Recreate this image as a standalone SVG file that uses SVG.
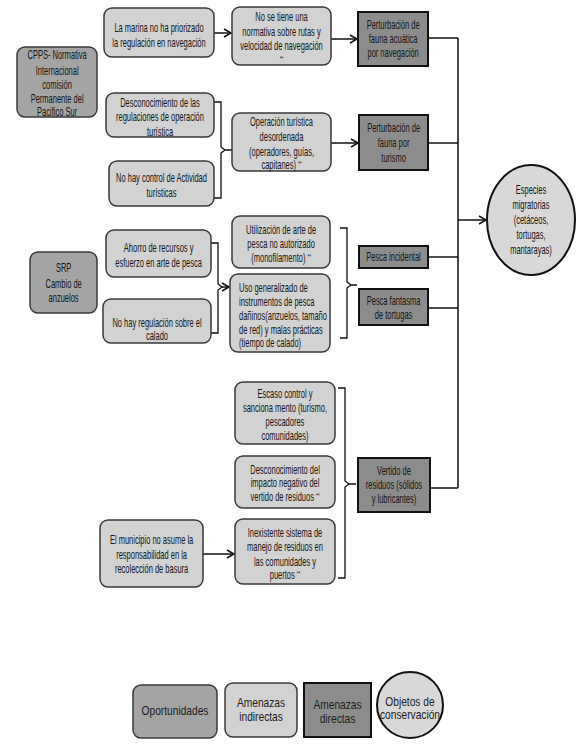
<svg xmlns="http://www.w3.org/2000/svg" width="579" height="747" viewBox="0 0 579 747">
<style>
.op{fill:#a4a4a4;stroke:#3a3a3a;stroke-width:1.5}
.ai{fill:#d2d2d2;stroke:#3a3a3a;stroke-width:1.5}
.ad{fill:#8c8c8c;stroke:#111;stroke-width:2}
.oc{fill:#d8d8d8;stroke:#111;stroke-width:2}
.t{font-family:"Liberation Sans",Arial,sans-serif;font-size:12px;fill:#151515;text-anchor:middle;transform:scaleX(0.625);transform-box:fill-box;transform-origin:center}
.tl{font-family:"Liberation Sans",Arial,sans-serif;font-size:12px;fill:#151515;text-anchor:start;transform:scaleX(0.625);transform-box:fill-box;transform-origin:left}
.lg{font-family:"Liberation Sans",Arial,sans-serif;font-size:12px;fill:#1c1c1c;text-anchor:middle;transform:scaleX(0.85);transform-box:fill-box;transform-origin:center}
.s{font-size:7px}
.c{fill:none;stroke:#111;stroke-width:1.5}
.b{fill:none;stroke:#111;stroke-width:1.3}
</style>
<defs>
<marker id="ar" markerWidth="10" markerHeight="10" refX="8" refY="5" orient="auto" markerUnits="userSpaceOnUse">
<path d="M1,1 L8,5 L1,9" fill="none" stroke="#111" stroke-width="1.5"/>
</marker>
</defs>
<rect width="579" height="747" fill="#fff"/>

<g id="connectors">
<line class="c" x1="214" y1="33" x2="231" y2="33" marker-end="url(#ar)"/>
<line class="c" x1="331" y1="39" x2="357" y2="39" marker-end="url(#ar)"/>
<line class="c" x1="331" y1="143" x2="358" y2="143" marker-end="url(#ar)"/>
<line class="c" x1="222" y1="287" x2="229" y2="287" marker-end="url(#ar)"/>
<line class="c" x1="203" y1="554" x2="234" y2="554" marker-end="url(#ar)"/>
<path class="c" d="M428,38 H458 M428,143 H458 M428,257 H458 M428,308 H458 M430,488 H458 M458,38 V488"/>
<line class="c" x1="458" y1="220" x2="486" y2="220" marker-end="url(#ar)"/>
<path class="b" d="M214,102 H221 V147 L225,150 L221,153 V198 H214 M225,150 H232"/>
<path class="b" d="M211,243 H218 V284 L222,287 L218,290 V333 H211"/>
<path class="b" d="M340,228 H347 V282 L351,285 L347,288 V338 H340 M351,285 H357"/>
<path class="b" d="M338,388 H345 V481 L349,484 L345,487 V578 H338 M349,484 H356"/>
</g>

<g id="cpps"><rect class="op" x="17" y="47" width="80" height="70" rx="8"/>
<text class="t"><tspan x="57" y="59">CPPS- Normativa</tspan><tspan x="57" y="75">Internacional</tspan><tspan x="57" y="89">comisión</tspan><tspan x="57" y="103">Permanente del</tspan><tspan x="57" y="116">Pacifico Sur</tspan></text></g>

<g id="marina"><rect class="ai" x="104" y="8" width="110" height="49" rx="8"/>
<text class="t"><tspan x="159" y="32">La marina no ha priorizado</tspan><tspan x="159" y="47">la regulación en navegación</tspan></text></g>

<g id="desconoc1"><rect class="ai" x="106" y="93" width="108" height="44" rx="8"/>
<text class="t"><tspan x="160" y="107">Desconocimiento de las</tspan><tspan x="160" y="121">regulaciones de operación</tspan><tspan x="160" y="136">turística</tspan></text></g>

<g id="nohaycontrol"><rect class="ai" x="109" y="161" width="105" height="45" rx="8"/>
<text class="t"><tspan x="161.5" y="182">No hay control de Actividad</tspan><tspan x="161.5" y="197">turísticas</tspan></text></g>

<g id="notiene"><rect class="ai" x="232" y="7" width="99" height="58" rx="8"/>
<text class="t"><tspan x="281.5" y="21">No se tiene una</tspan><tspan x="281.5" y="36">normativa sobre rutas y</tspan><tspan x="281.5" y="50">velocidad de navegación</tspan><tspan x="281.5" y="61" class="s">**</tspan></text></g>

<g id="operacion"><rect class="ai" x="232" y="113" width="99" height="58" rx="8"/>
<text class="t"><tspan x="281.5" y="126">Operación turística</tspan><tspan x="281.5" y="141">desordenada</tspan><tspan x="281.5" y="156">(operadores, guías,</tspan><tspan x="281.5" y="169">capitanes) <tspan class="s" dy="-3">**</tspan></tspan></text></g>

<g id="pertnav"><rect class="ad" x="358" y="12" width="70" height="54"/>
<text class="t"><tspan x="393" y="29">Perturbación de</tspan><tspan x="393" y="43">fauna acuática</tspan><tspan x="393" y="57">por navegación</tspan></text></g>

<g id="perttur"><rect class="ad" x="359" y="115" width="69" height="55"/>
<text class="t"><tspan x="393.5" y="132">Perturbación de</tspan><tspan x="393.5" y="147">fauna por</tspan><tspan x="393.5" y="162">turismo</tspan></text></g>

<g id="especies"><ellipse class="oc" cx="531" cy="220" rx="44" ry="55"/>
<text class="t"><tspan x="531" y="194">Especies</tspan><tspan x="531" y="209">migratorias</tspan><tspan x="531" y="224">(cetáceos,</tspan><tspan x="531" y="239">tortugas,</tspan><tspan x="531" y="254">mantarayas)</tspan></text></g>

<g id="srp"><rect class="op" x="30" y="252" width="67" height="61" rx="8"/>
<text class="t"><tspan x="63.5" y="272">SRP</tspan><tspan x="63.5" y="288">Cambio de</tspan><tspan x="63.5" y="302">anzuelos</tspan></text></g>

<g id="ahorro"><rect class="ai" x="106" y="230" width="105" height="47" rx="8"/>
<text class="t"><tspan x="158.5" y="252">Ahorro de recursos y</tspan><tspan x="158.5" y="267">esfuerzo en arte de pesca</tspan></text></g>

<g id="noregulacion"><rect class="ai" x="103" y="299" width="108" height="44" rx="8"/>
<text class="t"><tspan x="157" y="327">No hay regulación sobre el</tspan><tspan x="157" y="340">calado</tspan></text></g>

<g id="utilizacion"><rect class="ai" x="232" y="216" width="98" height="52" rx="8"/>
<text class="t"><tspan x="281" y="234">Utilización de arte de</tspan><tspan x="281" y="248">pesca no autorizado</tspan><tspan x="281" y="262">(monofilamento) <tspan class="s" dy="-3">**</tspan></tspan></text></g>

<g id="uso"><rect class="ai" x="230" y="274" width="100" height="78" rx="8"/>
<text class="tl"><tspan x="239" y="292">Uso generalizado de</tspan><tspan x="239" y="306">instrumentos de pesca</tspan><tspan x="239" y="320">dañinos(anzuelos, tamaño</tspan><tspan x="239" y="334">de red) y malas prácticas</tspan><tspan x="239" y="347">(tiempo de calado)</tspan></text></g>

<g id="pescainc"><rect class="ad" x="359" y="246" width="69" height="22"/>
<text class="t"><tspan x="393.5" y="261">Pesca incidental</tspan></text></g>

<g id="pescafan"><rect class="ad" x="359" y="289" width="69" height="36"/>
<text class="t"><tspan x="393.5" y="305">Pesca fantasma</tspan><tspan x="393.5" y="319">de tortugas</tspan></text></g>

<g id="escaso"><rect class="ai" x="235" y="382" width="100" height="62" rx="8"/>
<text class="t"><tspan x="285" y="398">Escaso control y</tspan><tspan x="285" y="412">sanciona mento (turismo,</tspan><tspan x="285" y="426">pescadores</tspan><tspan x="285" y="440">comunidades)</tspan></text></g>

<g id="desconoc2"><rect class="ai" x="235" y="456" width="100" height="52" rx="8"/>
<text class="t"><tspan x="285" y="474">Desconocimiento del</tspan><tspan x="285" y="487">impacto negativo del</tspan><tspan x="285" y="501">vertido de residuos <tspan class="s" dy="-3">**</tspan></tspan></text></g>

<g id="inexistente"><rect class="ai" x="235" y="519" width="100" height="65" rx="8"/>
<text class="t"><tspan x="285" y="537">Inexistente sistema de</tspan><tspan x="285" y="551">manejo de residuos en</tspan><tspan x="285" y="566">las comunidades y</tspan><tspan x="285" y="579">puertos <tspan class="s" dy="-3">**</tspan></tspan></text></g>

<g id="vertido"><rect class="ad" x="358" y="458" width="72" height="54"/>
<text class="t"><tspan x="394" y="475">Vertido de</tspan><tspan x="394" y="489">residuos (sólidos</tspan><tspan x="394" y="503">y lubricantes)</tspan></text></g>

<g id="municipio"><rect class="ai" x="100" y="520" width="103" height="67" rx="8"/>
<text class="t"><tspan x="151.5" y="544">El municipio no asume la</tspan><tspan x="151.5" y="559">responsabilidad en la</tspan><tspan x="151.5" y="573">recolección de basura</tspan></text></g>

<g id="legend-oportunidades"><rect class="op" x="133" y="685" width="84" height="53" rx="8"/>
<text class="lg"><tspan x="175" y="715">Oportunidades</tspan></text></g>
<g id="legend-indirectas"><rect class="ai" x="225" y="683" width="72" height="54" rx="8"/>
<text class="lg"><tspan x="261" y="707">Amenazas</tspan><tspan x="261" y="721">indirectas</tspan></text></g>
<g id="legend-directas"><rect class="ad" x="304" y="683" width="67" height="54"/>
<text class="lg"><tspan x="337.5" y="709">Amenazas</tspan><tspan x="337.5" y="723">directas</tspan></text></g>
<g id="legend-objetos"><circle class="oc" cx="410" cy="705" r="33"/>
<text class="lg"><tspan x="410" y="706">Objetos de</tspan><tspan x="410" y="719">conservación</tspan></text></g>
</svg>
